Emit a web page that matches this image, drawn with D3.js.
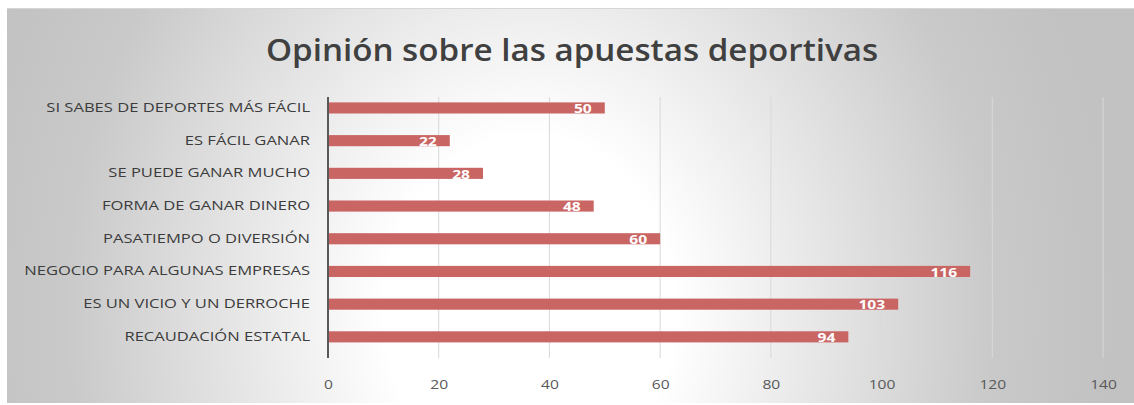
<!DOCTYPE html>
<html>
<head>
<meta charset="utf-8">
<script src="https://cdn.jsdelivr.net/npm/d3@7"></script>
<style>
  html, body { margin: 0; padding: 0; background: #fff; }
  svg { display: block; }
</style>
</head>
<body>
<svg id="chart" width="1134" height="405"></svg>
<script>
// Survey answers, top to bottom as shown
const categories = [
  "SI SABES DE DEPORTES MÁS FÁCIL",
  "ES FÁCIL GANAR",
  "SE PUEDE GANAR MUCHO",
  "FORMA DE GANAR DINERO",
  "PASATIEMPO O DIVERSIÓN",
  "NEGOCIO PARA ALGUNAS EMPRESAS",
  "ES UN VICIO Y UN DERROCHE",
  "RECAUDACIÓN ESTATAL"
];
const values = [50, 22, 28, 48, 60, 116, 103, 94];
const xTicks = [0, 20, 40, 60, 80, 100, 120, 140];
const title = "Opinión sobre las apuestas deportivas";

const svg = d3.select("#chart");
const W = 1134, H = 405;
const FONT = "'Open Sans', sans-serif";

// Chart area background: soft radial grey-to-white fill
const defs = svg.append("defs");
const grad = defs.append("radialGradient")
  .attr("id", "bg")
  .attr("gradientUnits", "userSpaceOnUse")
  .attr("cx", 530).attr("cy", 310).attr("r", 580)
  .attr("gradientTransform", "translate(530,310) scale(1,1.2) translate(-530,-310)");
grad.append("stop").attr("offset", "0").attr("stop-color", "#ffffff");
grad.append("stop").attr("offset", "0.25").attr("stop-color", "#ffffff");
grad.append("stop").attr("offset", "0.8").attr("stop-color", "#c9c9c9");
grad.append("stop").attr("offset", "1").attr("stop-color", "#c2c2c2");

svg.append("rect")
  .attr("x", 7).attr("y", 8)
  .attr("width", W - 7).attr("height", H - 10)
  .attr("fill", "url(#bg)");
svg.append("line")
  .attr("x1", 7).attr("x2", W).attr("y1", 8.5).attr("y2", 8.5)
  .attr("stroke", "#d6d6d6").attr("stroke-width", 1);

const plotTop = 97, plotBottom = 358;

const x = d3.scaleLinear()
  .domain([0, 140])
  .range([328, 1103]);

const y = d3.scaleBand()
  .domain(categories)
  .range([91.6, 353.2])
  .paddingInner(0.66)
  .paddingOuter(0.33);

// Title (glyphs widened slightly)
const titleScale = 1.07;
svg.append("text")
  .attr("transform", `translate(572, 61) scale(${titleScale}, 1)`)
  .attr("text-anchor", "middle")
  .attr("font-family", FONT)
  .attr("font-weight", 600)
  .attr("font-size", 31)
  .attr("fill", "#404040")
  .text(title);

// Vertical gridlines
svg.append("g")
  .selectAll("line")
  .data(xTicks.filter(d => d > 0))
  .join("line")
  .attr("x1", d => x(d)).attr("x2", d => x(d))
  .attr("y1", plotTop).attr("y2", plotBottom)
  .attr("stroke", "#d9d9d9").attr("stroke-width", 1);

// Bottom axis: labels only
const tickScale = 1.25;
const xAxis = svg.append("g")
  .attr("transform", `translate(0, ${plotBottom})`)
  .call(d3.axisBottom(x).tickValues(xTicks).tickSize(0).tickPadding(22));
xAxis.select(".domain").remove();
xAxis.selectAll("text")
  .attr("transform", `scale(${tickScale}, 1)`)
  .attr("font-family", FONT)
  .attr("font-size", 12.5)
  .attr("fill", "#595959");

// Bars
svg.append("g")
  .selectAll("rect")
  .data(values)
  .join("rect")
  .attr("x", x(0))
  .attr("y", (d, i) => y(categories[i]))
  .attr("width", d => x(d) - x(0))
  .attr("height", y.bandwidth())
  .attr("fill", "#c96664");

// Left axis: category labels
const catScale = 1.38;
const yAxis = svg.append("g")
  .attr("transform", `translate(${x(0)}, 0)`)
  .call(d3.axisLeft(y).tickSize(0).tickPadding(18 / catScale));
yAxis.select(".domain").remove();
yAxis.selectAll("text")
  .attr("transform", `scale(${catScale}, 1)`)
  .attr("font-family", FONT)
  .attr("font-size", 12)
  .attr("fill", "#3c3c3c");

// Vertical category axis line
svg.append("line")
  .attr("x1", x(0)).attr("x2", x(0))
  .attr("y1", plotTop).attr("y2", plotBottom)
  .attr("stroke", "#595959").attr("stroke-width", 2);

// Value labels inside bar ends
const valScale = 1.3;
svg.append("g")
  .selectAll("text")
  .data(values)
  .join("text")
  .attr("transform", (d, i) =>
    `translate(${x(d) - 13}, ${y(categories[i]) + y.bandwidth() / 2 + 1}) scale(${valScale}, 1)`)
  .attr("dy", "0.35em")
  .attr("text-anchor", "end")
  .attr("font-family", FONT)
  .attr("font-weight", 700)
  .attr("font-size", 12)
  .attr("fill", "#ffffff")
  .text(d => d);
</script>
</body>
</html>
